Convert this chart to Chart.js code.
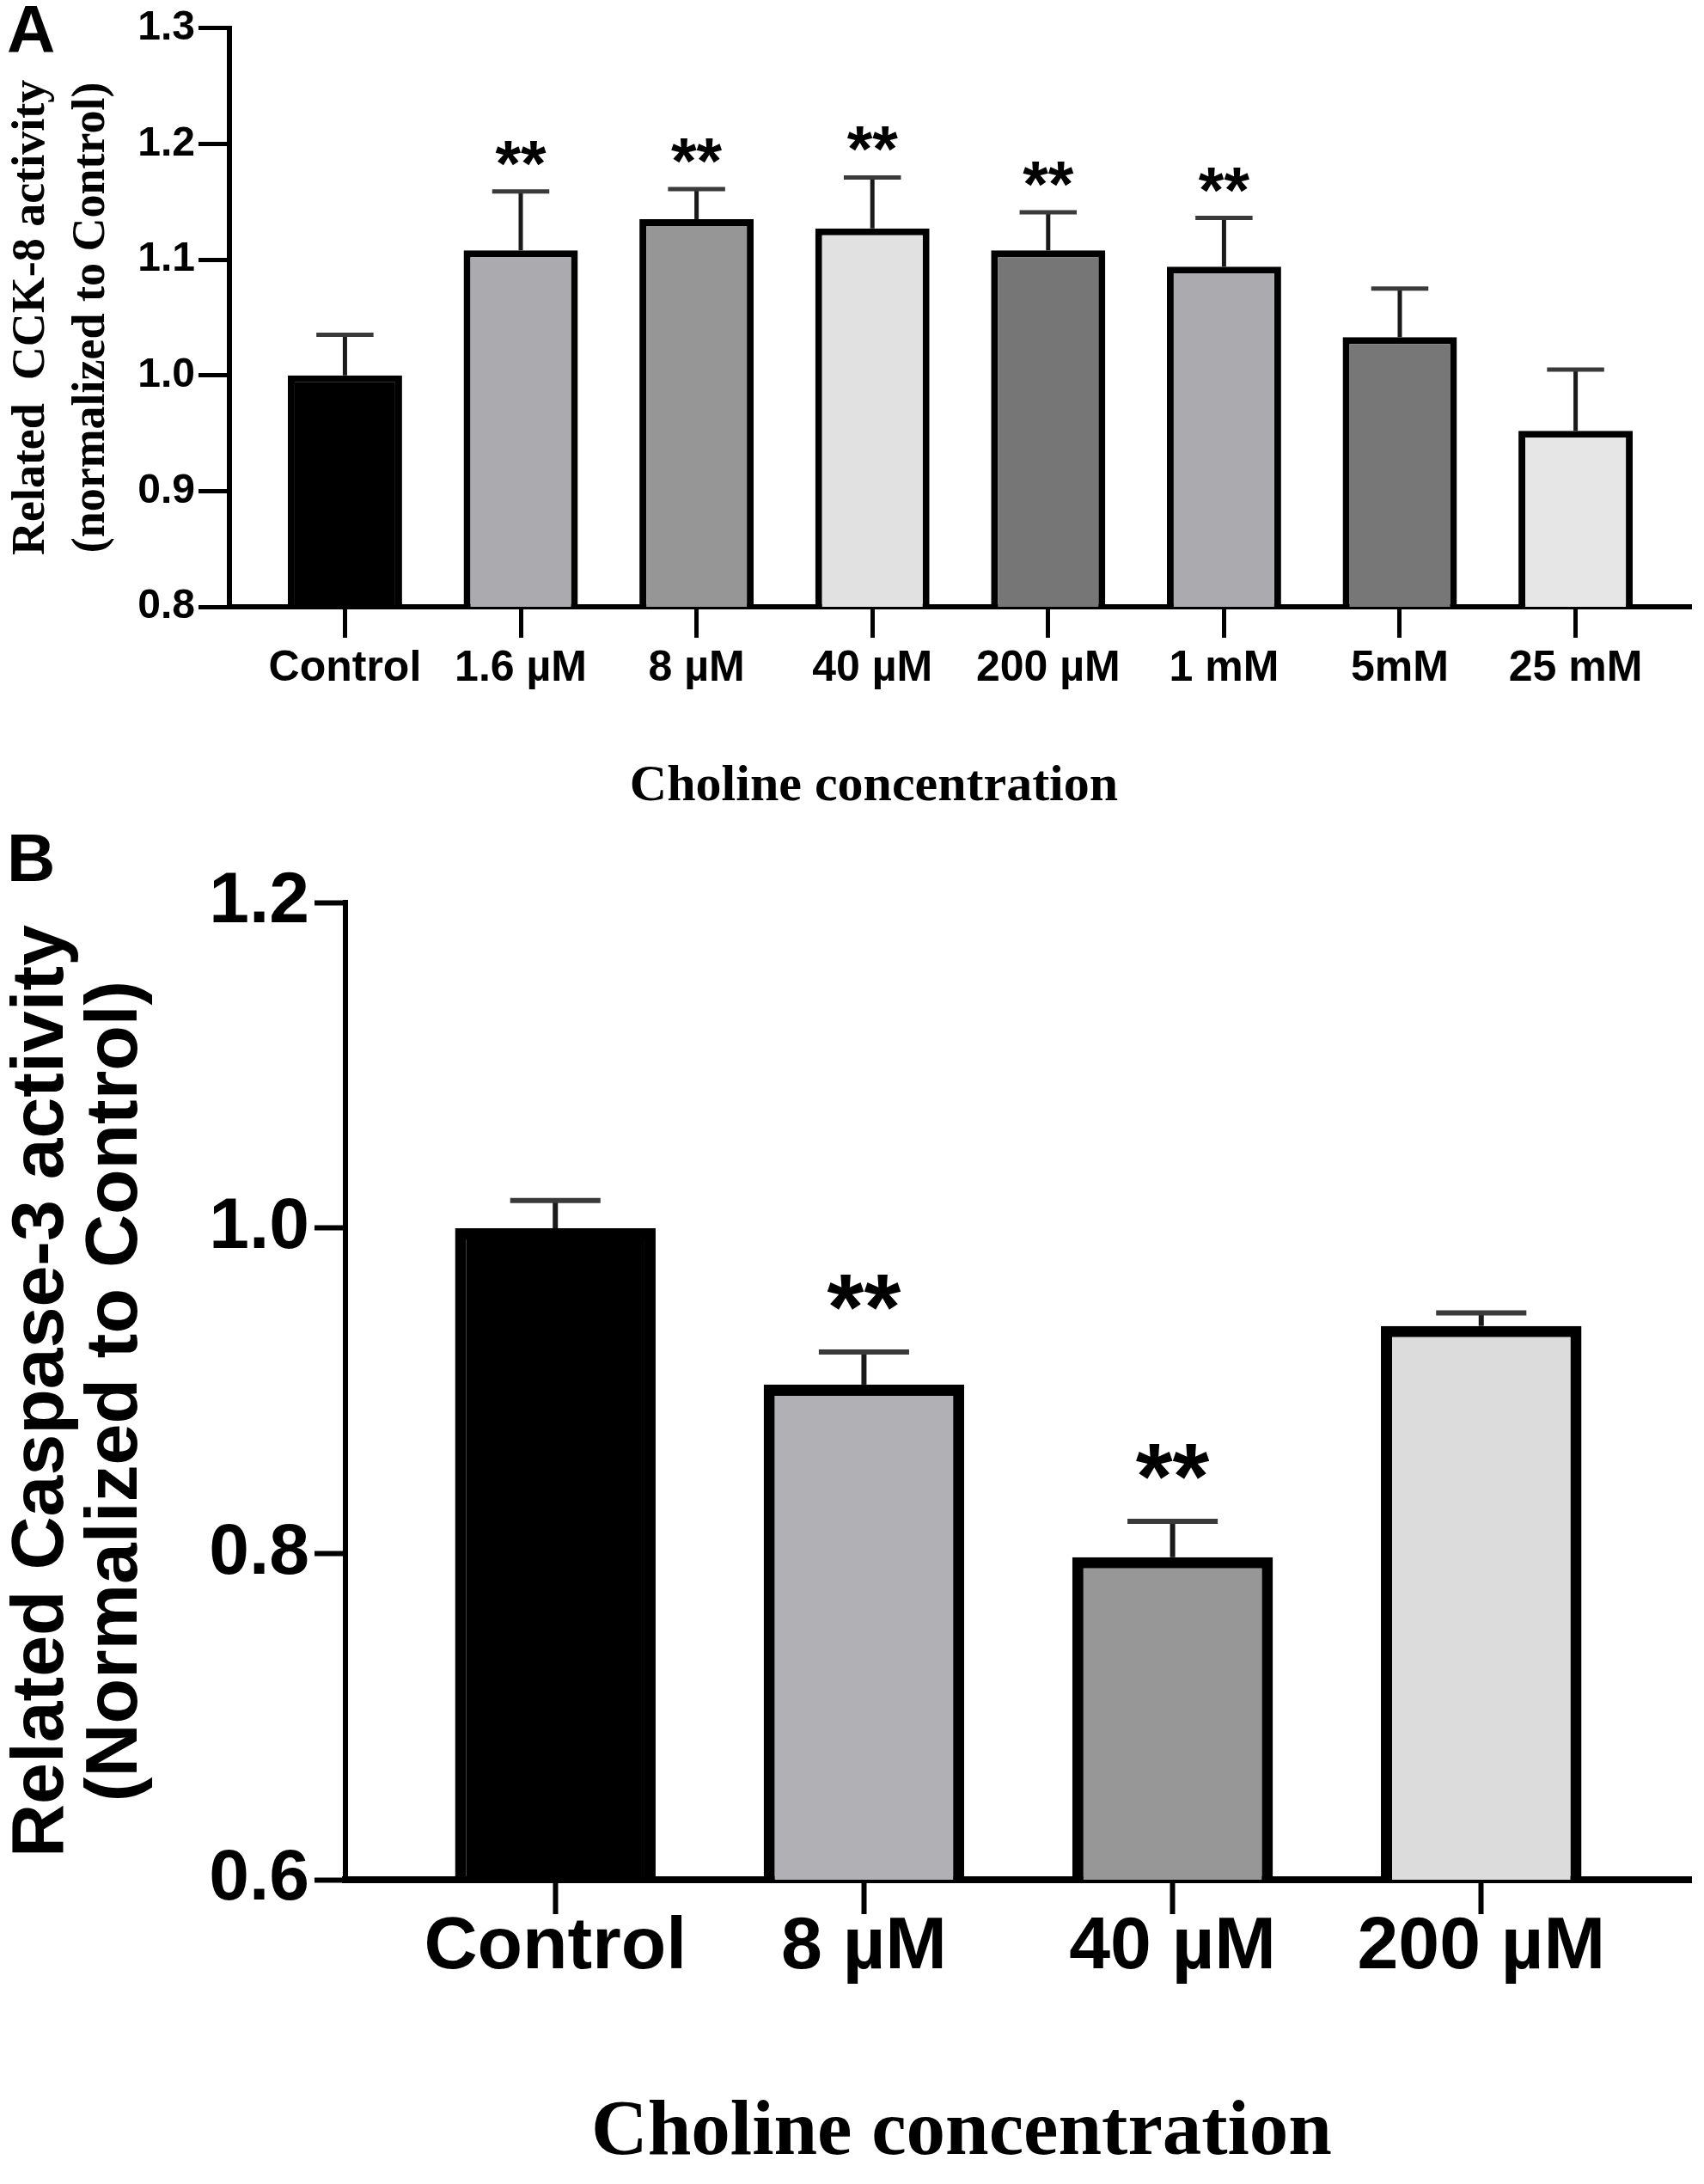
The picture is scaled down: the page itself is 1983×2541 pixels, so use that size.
<!DOCTYPE html>
<html>
<head>
<meta charset="utf-8">
<script src="https://cdn.jsdelivr.net/npm/chart.js@4.4.0/dist/chart.umd.min.js"></script>
<style>
  body { margin: 0; background: #fff; width: 1983px; height: 2541px; position: relative; overflow: hidden; }
  canvas { position: absolute; left: 0; }
  #chartA { top: 0; }
  #chartB { top: 960px; }
</style>
</head>
<body>
<canvas id="chartA" width="1983" height="960"></canvas>
<canvas id="chartB" width="1983" height="1581"></canvas>
<script>
// Panel A - CCK-8
const labelsA = ['Control', '1.6 µM', '8 µM', '40 µM', '200 µM', '1 mM', '5mM', '25 mM'];
const meansA = [1.000, 1.108, 1.135, 1.127, 1.108, 1.094, 1.033, 0.952];
const semA = [0.035, 0.051, 0.026, 0.044, 0.033, 0.042, 0.042, 0.053];
const starsA = ['', '**', '**', '**', '**', '**', '', ''];
const colorsA = ['#000000', '#ababaf', '#969696', '#e1e1e1', '#767676', '#ababaf', '#777777', '#e6e6e6'];
const yTicksA = [0.8, 0.9, 1.0, 1.1, 1.2, 1.3];

// Panel B - Caspase-3
const labelsB = ['Control', '8 µM', '40 µM', '200 µM'];
const meansB = [1.000, 0.904, 0.798, 0.940];
const semB = [0.017, 0.020, 0.022, 0.008];
const starsB = ['', '**', '**', ''];
const colorsB = ['#000000', '#b1b1b5', '#979797', '#dcdcdc'];
const yTicksB = [0.6, 0.8, 1.0, 1.2];

const SANS = "'Liberation Sans', Arial, sans-serif";
const SERIF = "'Liberation Serif', 'Times New Roman', serif";

// error bars (upper only), asterisks, x title and panel letter
const extrasPlugin = {
  id: 'extras',
  afterDatasetsDraw(chart, args, o) {
    const ctx = chart.ctx;
    const y = chart.scales.y;
    const bars = chart.getDatasetMeta(0).data;
    ctx.save();
    ctx.lineCap = 'butt';
    bars.forEach(function (bar, i) {
      const yBar = y.getPixelForValue(o.means[i]);
      const yTop = y.getPixelForValue(o.means[i] + o.sem[i]);
      const half = bar.width * o.capRatio / 2;
      ctx.strokeStyle = '#1a1a1a';
      ctx.lineWidth = o.errWidth;
      ctx.beginPath();
      ctx.moveTo(bar.x, yBar);
      ctx.lineTo(bar.x, yTop);
      ctx.stroke();
      ctx.strokeStyle = '#3a3a3a';
      ctx.beginPath();
      ctx.moveTo(bar.x - half, yTop);
      ctx.lineTo(bar.x + half, yTop);
      ctx.stroke();
      if (o.stars[i]) {
        ctx.fillStyle = '#000';
        ctx.font = 'bold ' + o.starSize + 'px ' + SANS;
        ctx.textAlign = 'center';
        ctx.textBaseline = 'alphabetic';
        ctx.fillText(o.stars[i], bar.x, yTop - o.starGap + o.starSize * 0.5);
      }
    });
    ctx.fillStyle = '#000';
    ctx.textAlign = 'center';
    ctx.textBaseline = 'middle';
    ctx.font = 'bold ' + o.xTitleSize + 'px ' + SERIF;
    ctx.fillText('Choline concentration', o.xTitleX, o.xTitleY);
    ctx.textAlign = 'left';
    ctx.textBaseline = 'top';
    ctx.font = 'bold ' + o.letterSize + 'px ' + SANS;
    ctx.fillText(o.letter, 8, o.letterY);
    ctx.restore();
  }
};

function makeChart(id, c) {
  const data = c.means.map(function (v, i) { return { x: i, y: v }; });
  return new Chart(document.getElementById(id), {
    type: 'bar',
    data: {
      datasets: [{
        data: data,
        backgroundColor: c.colors,
        borderColor: '#000',
        borderWidth: c.barBorder,
        borderSkipped: false,
        categoryPercentage: 1,
        barPercentage: 0.65
      }]
    },
    plugins: [extrasPlugin],
    options: {
      responsive: false,
      devicePixelRatio: 1,
      animation: false,
      layout: { padding: { top: c.top, right: 15, left: 0, bottom: 0 } },
      plugins: {
        legend: { display: false },
        tooltip: { enabled: false },
        extras: c.extras
      },
      scales: {
        x: {
          type: 'linear',
          offset: false,
          min: -c.pad,
          max: c.labels.length - 1 + c.pad,
          afterBuildTicks: function (s) { s.ticks = c.labels.map(function (_, i) { return { value: i }; }); },
          afterFit: function (s) { s.height = c.bottom; },
          ticks: {
            callback: function (v) { return c.labels[v]; },
            autoSkip: false, maxRotation: 0, color: '#000',
            font: { family: SANS, weight: 'bold', size: c.xTickSize },
            padding: c.xTickPad
          },
          grid: { offset: false, drawOnChartArea: false, tickLength: c.xTickLen, tickWidth: c.tickWidth, tickColor: '#000' },
          border: { color: '#000', width: c.xAxisWidth }
        },
        y: {
          min: c.yTicks[0],
          max: c.yTicks[c.yTicks.length - 1],
          afterBuildTicks: function (s) { s.ticks = c.yTicks.map(function (v) { return { value: v }; }); },
          afterFit: function (s) { s.width = c.left; },
          ticks: {
            callback: function (v) { return v.toFixed(1); },
            color: '#000',
            font: { family: SANS, weight: 'bold', size: c.yTickSize },
            padding: c.yTickPad
          },
          grid: { drawOnChartArea: false, tickLength: c.yTickLen, tickWidth: c.tickWidth, tickColor: '#000' },
          border: { color: '#000', width: c.yAxisWidth },
          title: {
            display: true,
            text: c.yTitle,
            color: '#000',
            font: c.yTitleFont,
            padding: { top: c.yTitlePad, bottom: 0 }
          }
        }
      }
    }
  });
}

makeChart('chartA', {
  labels: labelsA, means: meansA, colors: colorsA, yTicks: yTicksA,
  top: 32, left: 267, bottom: 254, pad: 0.657,
  barBorder: 8, tickWidth: 5, xAxisWidth: 6, yAxisWidth: 6,
  xTickSize: 50, xTickPad: 6, xTickLen: 36,
  yTickSize: 48, yTickPad: 4, yTickLen: 36,
  yTitle: ['Related  CCK-8 activity', '(normalized to Control)'],
  yTitleFont: { family: SERIF, weight: 'bold', size: 54, lineHeight: 1.3 },
  yTitlePad: 2,
  extras: {
    means: meansA, sem: semA, stars: starsA, capRatio: 0.5, errWidth: 5,
    starSize: 76, starGap: 45,
    xTitleSize: 60, xTitleX: 1017, xTitleY: 915,
    letter: 'A', letterSize: 78, letterY: 0
  }
});

makeChart('chartB', {
  labels: labelsB, means: meansB, colors: colorsB, yTicks: yTicksB,
  top: 90, left: 402, bottom: 354, pad: 0.68,
  barBorder: 13, tickWidth: 6, xAxisWidth: 8, yAxisWidth: 6,
  xTickSize: 86, xTickPad: -12, xTickLen: 40,
  yTickSize: 84, yTickPad: 6, yTickLen: 36,
  yTitle: ['Related Caspase-3 activity', '(Normalized to Control)'],
  yTitleFont: { family: SANS, weight: 'bold', size: 86, lineHeight: 1.0 },
  yTitlePad: 6,
  extras: {
    means: meansB, sem: semB, stars: starsB, capRatio: 0.45, errWidth: 6,
    starSize: 110, starGap: 70,
    xTitleSize: 91, xTitleX: 1119, xTitleY: 1522,
    letter: 'B', letterSize: 78, letterY: 4
  }
});
</script>
</body>
</html>
